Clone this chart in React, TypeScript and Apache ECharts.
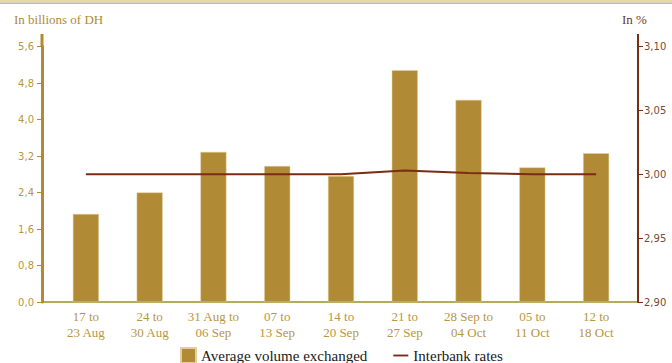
import React, { useEffect, useRef } from "react";
import * as echarts from "echarts";

const categories = [
  "17 to\n23 Aug",
  "24 to\n30 Aug",
  "31 Aug to\n06 Sep",
  "07 to\n13 Sep",
  "14 to\n20 Sep",
  "21 to\n27 Sep",
  "28 Sep to\n04 Oct",
  "05 to\n11 Oct",
  "12 to\n18 Oct",
];
const volumeExchanged = [1.93, 2.4, 3.29, 2.98, 2.76, 5.08, 4.43, 2.95, 3.26];
const interbankRates = [3.0, 3.0, 3.0, 3.0, 3.0, 3.003, 3.001, 3.0, 3.0];
const leftTicks = { min: 0, max: 5.6, interval: 0.8 };
const rightTicks = { min: 2.9, max: 3.1, interval: 0.05 };

const GOLD = "#b08a34";
const BROWN = "#7a2c14";

export default function App() {
  const ref = useRef<HTMLDivElement>(null);
  useEffect(() => {
    if (!ref.current) return;
    const chart = echarts.init(ref.current, null, { renderer: "svg" });
    chart.setOption({
      animation: false,
      backgroundColor: "#ffffff",
      grid: { left: 54, right: 44, top: 46.5, bottom: 61 },
      legend: {
        left: 175,
        top: 342,
        itemWidth: 15,
        itemHeight: 15,
        itemGap: 26,
        textStyle: { fontFamily: "Liberation Serif", fontSize: 15, color: "#1a1a1a" },
        data: [
          { name: "Average volume exchanged", icon: "rect" },
          { name: "Interbank rates", icon: "path://M0,0h24v3H0z" },
        ],
      },
      xAxis: {
        type: "category",
        data: categories,
        axisLine: { show: false },
        axisTick: { show: false },
        axisLabel: {
          interval: 0,
          color: "#b8963e",
          fontFamily: "Liberation Serif",
          fontSize: 13,
          lineHeight: 16,
          margin: 6,
        },
      },
      yAxis: [
        {
          type: "value",
          position: "left",
          offset: 12,
          min: leftTicks.min,
          max: leftTicks.max,
          interval: leftTicks.interval,
          splitLine: { show: false },
          axisLine: { show: true, lineStyle: { color: GOLD, width: 3 } },
          axisTick: { show: true, inside: false, length: 5, lineStyle: { color: GOLD, width: 1 } },
          axisLabel: {
            color: "#b8963e",
            fontFamily: "DejaVu Sans",
            fontSize: 10,
            margin: 8,
            formatter: (v: number) => v.toFixed(1).replace(".", ","),
          },
        },
        {
          type: "value",
          position: "right",
          offset: 10,
          min: rightTicks.min,
          max: rightTicks.max,
          interval: rightTicks.interval,
          splitLine: { show: false },
          axisLine: { show: true, lineStyle: { color: BROWN, width: 2 } },
          axisTick: { show: true, inside: false, length: 5, lineStyle: { color: BROWN, width: 1 } },
          axisLabel: {
            color: "#7a4a30",
            fontFamily: "DejaVu Sans",
            fontSize: 10,
            margin: 6,
            formatter: (v: number) => v.toFixed(2).replace(".", ","),
          },
        },
      ],
      series: [
        {
          name: "Average volume exchanged",
          type: "bar",
          yAxisIndex: 0,
          data: volumeExchanged,
          barWidth: 26,
          itemStyle: { color: GOLD, borderColor: "#e3cf9c", borderWidth: 0.5 },
        },
        {
          name: "Interbank rates",
          type: "line",
          yAxisIndex: 1,
          data: interbankRates,
          symbol: "none",
          lineStyle: { color: BROWN, width: 2 },
          itemStyle: { color: BROWN },
        },
      ],
      graphic: [
        { type: "rect", shape: { x: 0, y: 0, width: 672, height: 2.5 }, style: { fill: "#e6d9a8" } },
        { type: "rect", shape: { x: 0, y: 2.5, width: 672, height: 1.5 }, style: { fill: "#b9b9b9" } },
        { type: "line", shape: { x1: 42, y1: 34, x2: 42, y2: 47 }, style: { stroke: GOLD, lineWidth: 3 } },
        { type: "line", shape: { x1: 638, y1: 34, x2: 638, y2: 47 }, style: { stroke: BROWN, lineWidth: 2 } },
        { type: "line", shape: { x1: 42, y1: 302, x2: 638, y2: 302 }, style: { stroke: "#9a9020", lineWidth: 1.5 } },
        {
          type: "text",
          left: 14,
          top: 13,
          style: { text: "In billions of DH", fill: "#b08a34", fontFamily: "Liberation Serif", fontSize: 13 },
        },
        {
          type: "text",
          left: 622,
          top: 13,
          style: { text: "In %", fill: "#6b3a22", fontFamily: "Liberation Serif", fontSize: 13 },
        },
      ],
    });
    return () => chart.dispose();
  }, []);
  return <div ref={ref} style={{ width: 672, height: 363, position: "absolute", left: 0, top: 0 }} />;
}
